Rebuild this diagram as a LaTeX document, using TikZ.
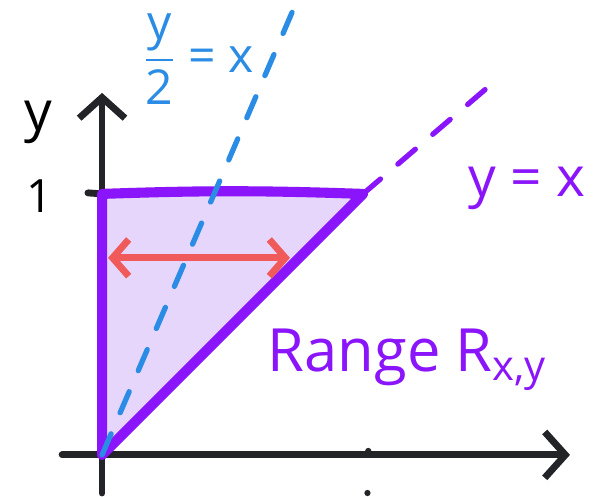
\documentclass[tikz,border=0pt]{standalone}
\usepackage{amsmath}
\usepackage{xcolor}
\usepackage{fontspec}
\setmainfont{Open Sans}
\usepackage{tikz}
\usetikzlibrary{arrows.meta}

\definecolor{inkblack}{RGB}{35,36,40}
\definecolor{inkpurple}{RGB}{138,20,250}
\definecolor{fillpurple}{RGB}{230,214,252}
\definecolor{inkblue}{RGB}{42,140,228}
\definecolor{inkred}{RGB}{240,90,90}

\begin{document}
\begin{tikzpicture}[x=4cm, y=4cm, line cap=round, line join=round,
    axis/.style={draw=inkblack, line width=3pt, -{Straight Barb[length=9pt, width=20pt, line width=3pt]}},
    region/.style={draw=inkpurple, fill=fillpurple, line width=4.4pt},
    guide/.style={line width=2.3pt, dash pattern=on 10pt off 10pt},
    hand/.style={font=\fontsize{24}{28}\selectfont}]
  \useasboundingbox (-0.391,-0.161) rectangle (1.885,1.743);

  \coordinate (O) at (0,0);
  \coordinate (T) at (0,1);
  \coordinate (C) at (1,1);
  \coordinate (xs) at (-0.153,0);
  \coordinate (xe) at (1.793,0);
  \coordinate (ys) at (0,-0.146);
  \coordinate (ye) at (0,1.387);
  \coordinate (yt) at (-0.054,1.004);
  \coordinate (yx) at (1.475,1.406);
  \coordinate (hx) at (0.73,1.70);
  \coordinate (ra) at (0.023,0.755);
  \coordinate (rb) at (0.72,0.755);

  \draw[axis] (xs) -- (xe);
  \draw[axis] (ys) -- (ye);
  \draw[inkblack, line width=3pt] (yt) -- (T);
  \fill[inkblack] (1.02,0.015) circle (0.012);
  \fill[inkblack] (1.017,-0.146) circle (0.012);

  \draw[region] (O) -- (T) to[bend left=2] (C) -- cycle;
  \draw[guide, inkpurple] (C) -- (yx);
  \draw[guide, inkblue] (O) -- (hx);
  \draw[inkred, line width=3pt, {Straight Barb[length=7pt, width=16pt, line width=3pt]}-{Straight Barb[length=7pt, width=16pt, line width=3pt]}] (ra) -- (rb);

  \node[hand] (ylab) at (-0.245,1.275) {y};
  \node[hand, font=\fontsize{20}{24}\selectfont] (onelab) at (-0.238,0.99) {1};
  \node[hand, inkblue, font=\fontsize{21}{24}\selectfont] (halflab) at (0.37,1.515) {$\dfrac{\text{y}}{\text{2}}\text{ = x}$};
  \node[hand, inkpurple] (diaglab) at (1.628,1.02) {y = x};
  \node[hand, inkpurple, font=\fontsize{26}{30}\selectfont] (rangelab) at (1.17,0.364) {Range R$_{\text{x,y}}$};
\end{tikzpicture}
\end{document}
